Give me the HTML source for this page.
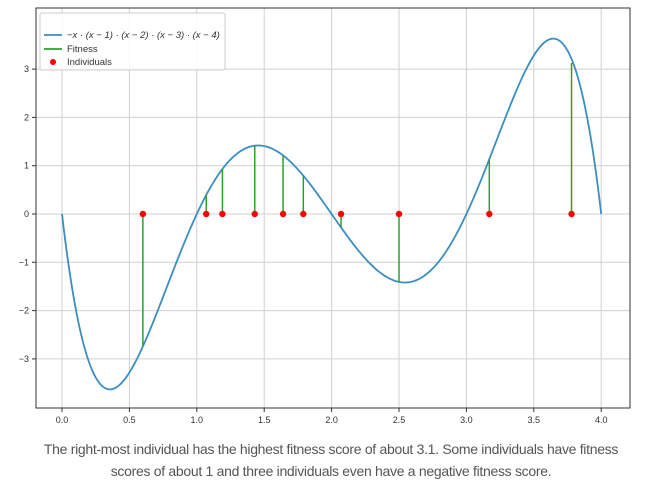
<!DOCTYPE html>
<html><head><meta charset="utf-8"><style>
body{margin:0;background:#fff;width:662px;height:498px;overflow:hidden;font-family:"Liberation Sans",sans-serif}
#cap{position:absolute;left:0;top:438px;width:662px;text-align:center;font-size:14px;line-height:22px;color:#555;letter-spacing:-0.3px}
</style></head><body>
<svg id="chart" width="662" height="430" style="position:absolute;left:0;top:0"></svg>
<div id="cap">The right-most individual has the highest fitness score of about 3.1. Some individuals have fitness<br>scores of about 1 and three individuals even have a negative fitness score.</div>
<script>
const xTicks=[0,0.5,1,1.5,2,2.5,3,3.5,4];
const xTickLabels=["0.0","0.5","1.0","1.5","2.0","2.5","3.0","3.5","4.0"];
const yTicks=[-3,-2,-1,0,1,2,3];
const yTickLabels=["−3","−2","−1","0","1","2","3"];
const indX=[0.6,1.07,1.19,1.43,1.64,1.79,2.07,2.5,3.17,3.78];
const indFit=[-2.74,0.40,0.94,1.41,1.21,0.78,-0.27,-1.41,1.14,3.13];
const NS="http://www.w3.org/2000/svg";
const svg=document.getElementById('chart');
const L=36,R=630,T=8,B=408;
const sx=v=>62+v*134.8, sy=v=>214-v*48.3;
function mk(t,a){const e=document.createElementNS(NS,t);for(const k in a)e.setAttribute(k,a[k]);svg.appendChild(e);return e;}
xTicks.forEach((v,i)=>{
 const g=mk('line',{x1:sx(v),x2:sx(v),y1:T,y2:B,stroke:'#d0d0d0','stroke-width':1});
 
 
 mk('line',{x1:sx(v),x2:sx(v),y1:B,y2:B+4,stroke:'#333'});
 const t=mk('text',{x:sx(v),y:B+15,'font-size':9,'text-anchor':'middle',fill:'#333'});t.textContent=xTickLabels[i];
 
 
});
yTicks.forEach((v,i)=>{
 const g=mk('line',{x1:L,x2:R,y1:sy(v),y2:sy(v),stroke:'#d0d0d0','stroke-width':1});
 
 
 mk('line',{x1:L-4,x2:L,y1:sy(v),y2:sy(v),stroke:'#333'});
 const t=mk('text',{x:L-7,y:sy(v)+3,'font-size':9,'text-anchor':'end',fill:'#333'});t.textContent=yTickLabels[i];
 
 
});
const fr=mk('rect',{x:L,y:T,width:R-L,height:B-T,fill:'none',stroke:'#333','stroke-width':1});


let d='';
for(let i=0;i<=400;i++){const x=i/100;const y=-x*(x-1)*(x-2)*(x-3)*(x-4);d+=(i?'L':'M')+sx(x).toFixed(2)+' '+sy(y).toFixed(2);}
const c=mk('path',{d:d,fill:'none',stroke:'#3a8fc0','stroke-width':1.8});


indX.forEach((x,i)=>{
 const l=mk('line',{x1:sx(x),x2:sx(x),y1:sy(0),y2:sy(indFit[i]),stroke:'#2ca02c','stroke-width':1.5});
 
 
});
indX.forEach((x,i)=>{
 const p=mk('circle',{cx:sx(x),cy:sy(0),r:3.2,fill:'#ff0000'});
 
 
});
const lg=mk('rect',{x:40,y:13,width:185,height:57,fill:'#fff','fill-opacity':0.85,stroke:'#ccc',rx:2});


mk('line',{x1:44,x2:62,y1:35,y2:35,stroke:'#3a8fc0','stroke-width':1.8});
mk('line',{x1:44,x2:62,y1:49,y2:49,stroke:'#2ca02c','stroke-width':1.8});
mk('circle',{cx:53,cy:62,r:3,fill:'#f00'});
[["−x · (x − 1) · (x − 2) · (x − 3) · (x − 4)",38,'italic'],["Fitness",52,'normal'],["Individuals",65,'normal']].forEach(a=>{
 const t=mk('text',{x:67,y:a[1],'font-size':9.5,fill:'#333','font-style':a[2]});t.textContent=a[0];
 
 
});
</script>
</body></html>
